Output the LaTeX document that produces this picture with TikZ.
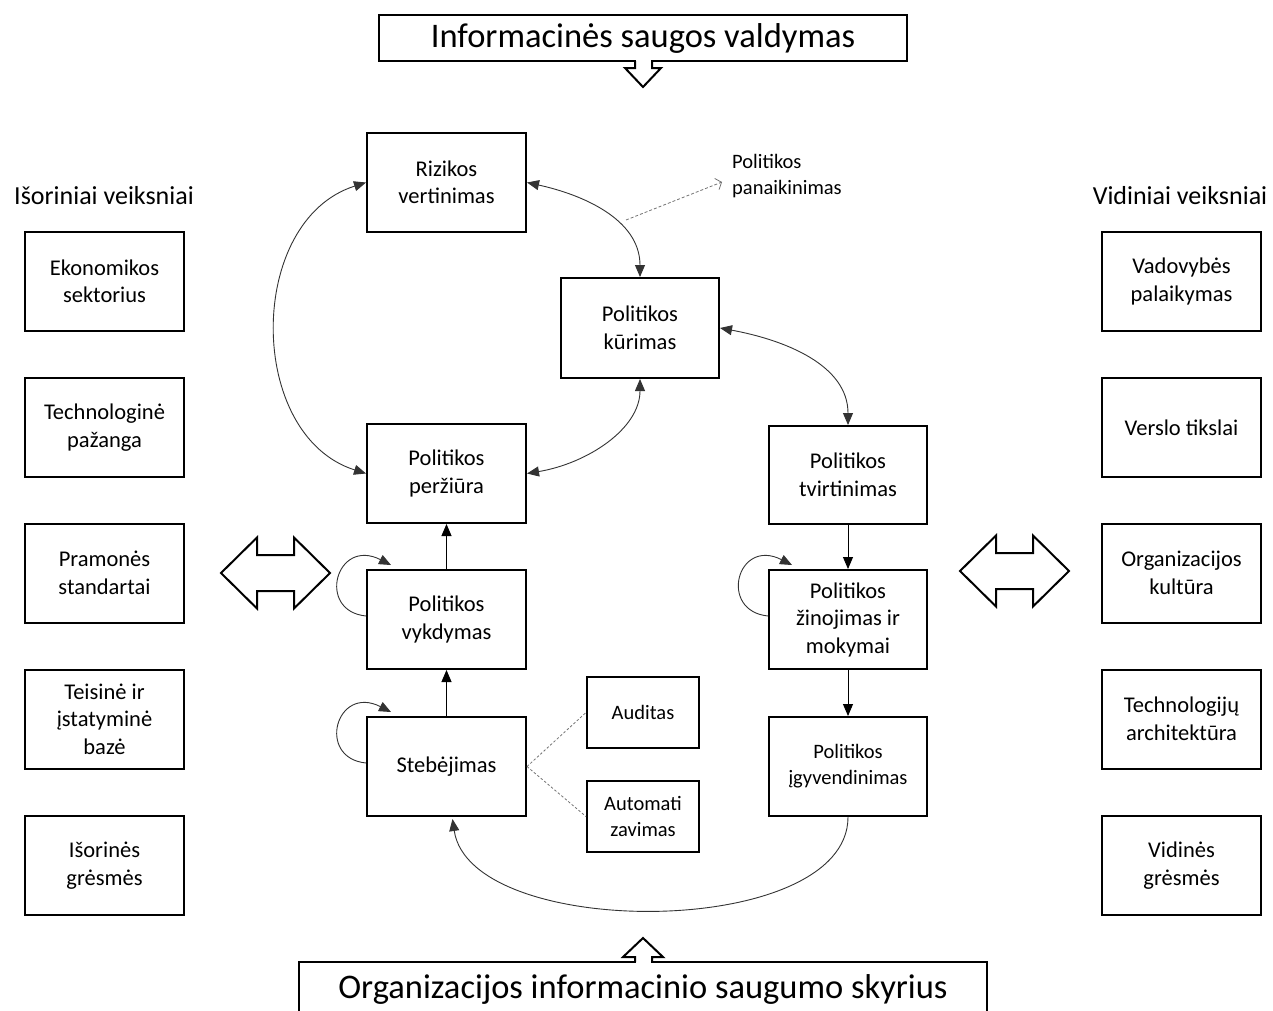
\documentclass[tikz,border=0pt]{standalone}
\usepackage{fontspec}
\setmainfont{Carlito}
\usetikzlibrary{arrows.meta,calc}
\begin{document}
\begin{tikzpicture}[x=1pt,y=-1pt,
  box/.style={draw,line width=2pt,align=center,inner sep=0pt,
    minimum width=159pt,minimum height=99pt,font=\fontsize{22.5}{27.5}\selectfont},
  smallbox/.style={box,font=\fontsize{20.5}{26}\selectfont},
  minibox/.style={smallbox,minimum width=112pt,minimum height=71pt},
  big/.style={font=\fontsize{34.5}{40}\selectfont},
  colhead/.style={font=\fontsize{26}{30}\selectfont},
  solidtip/.tip={Triangle[length=12pt,width=10pt]},
  flow/.style={line width=0.9pt,-solidtip},
  arcline/.style={line width=0.9pt,draw=black!80,solidtip-solidtip},
  selfline/.style={line width=0.9pt,draw=black!80,-solidtip},
  link/.style={line width=0.8pt,draw=black!55,dash pattern=on 2.5pt off 2pt},
  blockarrow/.style={draw,line width=2pt,fill=white,line join=miter},
]
\useasboundingbox (0,0) rectangle (1273,1010);
\clip (0,0) rectangle (1273,1010);

% top heading with its arrow
\node[draw,line width=2pt,inner sep=0pt,minimum width=528pt,minimum height=46pt,big]
  (title) at (643,38) {Informacinės saugos valdymas};
\fill[white] (636,58) rectangle (651,69);
\draw[line width=2pt,line join=miter] (635,61) -- (635,68) -- (625,68) -- (643,87)
  -- (661,68) -- (652,68) -- (652,61);

% bottom heading with its arrow
\draw[line width=2pt] (299,1030) |- (987,962) -- (987,1030);
\node[big] (org) at (643,989) {Organizacijos informacinio saugumo skyrius};
\fill[white] (636,955) rectangle (651,965);
\draw[line width=2pt,line join=miter] (635,962) -- (635,957) -- (623,957) -- (643,938)
  -- (663,957) -- (652,957) -- (652,962);

% external factors
\node[colhead] (exth) at (104,196) {Išoriniai veiksniai};
\node[box] (e1) at (104.5,281.5) {Ekonomikos\\sektorius};
\node[box] (e2) at (104.5,427.5) {Technologinė\\pažanga};
\node[box] (e3) at (104.5,573) {Pramonės\\standartai};
\node[box] (e4) at (104.5,719) {Teisinė ir\\įstatyminė\\bazė};
\node[box] (e5) at (104.5,865.5) {Išorinės\\grėsmės};

% internal factors
\node[colhead] (inth) at (1180,196) {Vidiniai veiksniai};
\node[box] (v1) at (1181.5,281.5) {Vadovybės\\palaikymas};
\node[box] (v2) at (1181.5,427.5) {Verslo tikslai};
\node[box] (v3) at (1181.5,573) {Organizacijos\\kultūra};
\node[box] (v4) at (1181.5,719) {Technologijų\\architektūra};
\node[box] (v5) at (1181.5,865.5) {Vidinės\\grėsmės};

% two-way block arrows
\draw[blockarrow] (221,573) -- (257,537.5) -- (257,555) -- (294,555) -- (294,537.5)
  -- (330,573) -- (294,608.5) -- (294,591) -- (257,591) -- (257,608.5) -- cycle;
\draw[blockarrow] (960,571) -- (996,535.5) -- (996,553) -- (1033,553) -- (1033,535.5)
  -- (1069,571) -- (1033,606.5) -- (1033,589) -- (996,589) -- (996,606.5) -- cycle;

% policy life cycle
\node[box] (riz) at (446.5,182.5) {Rizikos\\vertinimas};
\node[box,minimum width=158pt,minimum height=100pt] (kur) at (640,328) {Politikos\\kūrimas};
\node[box] (per) at (446.5,473.5) {Politikos\\peržiūra};
\node[box,minimum width=158pt,minimum height=98pt] (tvi) at (848,475) {Politikos\\tvirtinimas};
\node[box] (vyk) at (446.5,619.5) {Politikos\\vykdymas};
\node[box,minimum width=158pt] (zin) at (848,619.5) {Politikos\\žinojimas ir\\mokymai};
\node[box] (ste) at (446.5,766.5) {Stebėjimas};
\node[smallbox,minimum width=158pt] (igy) at (848,766.5) {Politikos\\įgyvendinimas};
\node[minibox] (aud) at (643,712.5) {Auditas};
\node[minibox] (aut) at (643,816.5) {Automati\\zavimas};

\node[anchor=west,inner xsep=10pt,inner ysep=0pt,align=left,
  font=\fontsize{20.5}{26}\selectfont] (pan) at (722,176) {Politikos\\panaikinimas};
\coordinate (panfrom) at (626,220);
\draw[link,dash pattern=on 3pt off 2pt,-{Straight Barb[length=5pt,width=12pt]}]
  (panfrom) -- ($(pan.west)+(0,6)$);

% curved two-way links
\draw[arcline] (riz.west) .. controls +(-120,38) and +(-120,-38) .. (per.west);
\draw[arcline] (riz.east) .. controls +(55,12) and +(0,-58) .. (kur.north);
\draw[arcline] (kur.south) .. controls +(0,50) and +(60,-10) .. (per.east);
\draw[arcline] (kur.east) .. controls +(65,12) and +(0,-60) .. (tvi.north);

% straight steps
\draw[flow] (ste.north) -- (vyk.south);
\draw[flow] (vyk.north) -- (per.south);
\draw[flow] (tvi.south) -- (zin.north);
\draw[flow] (zin.south) -- (igy.north);

% feedback from implementation to monitoring
\draw[selfline] (igy.south) .. controls +(0,123) and +(18,122) .. ($(ste.south)+(6,2)$);

% self loops
\draw[selfline] ($(vyk.north west)+(0,47)$) .. controls +(-50,-5) and +(-55,-28)
  .. ($(vyk.north west)+(25,-4)$);
\draw[selfline] ($(ste.north west)+(0,47)$) .. controls +(-50,-5) and +(-55,-28)
  .. ($(ste.north west)+(25,-4)$);
\draw[selfline] ($(zin.north west)+(0,47)$) .. controls +(-50,-5) and +(-55,-28)
  .. ($(zin.north west)+(24,-4)$);

% monitoring tools
\draw[link] (ste.east) -- (aud.west);
\draw[link] (ste.east) -- (aut.west);
\end{tikzpicture}
\end{document}
